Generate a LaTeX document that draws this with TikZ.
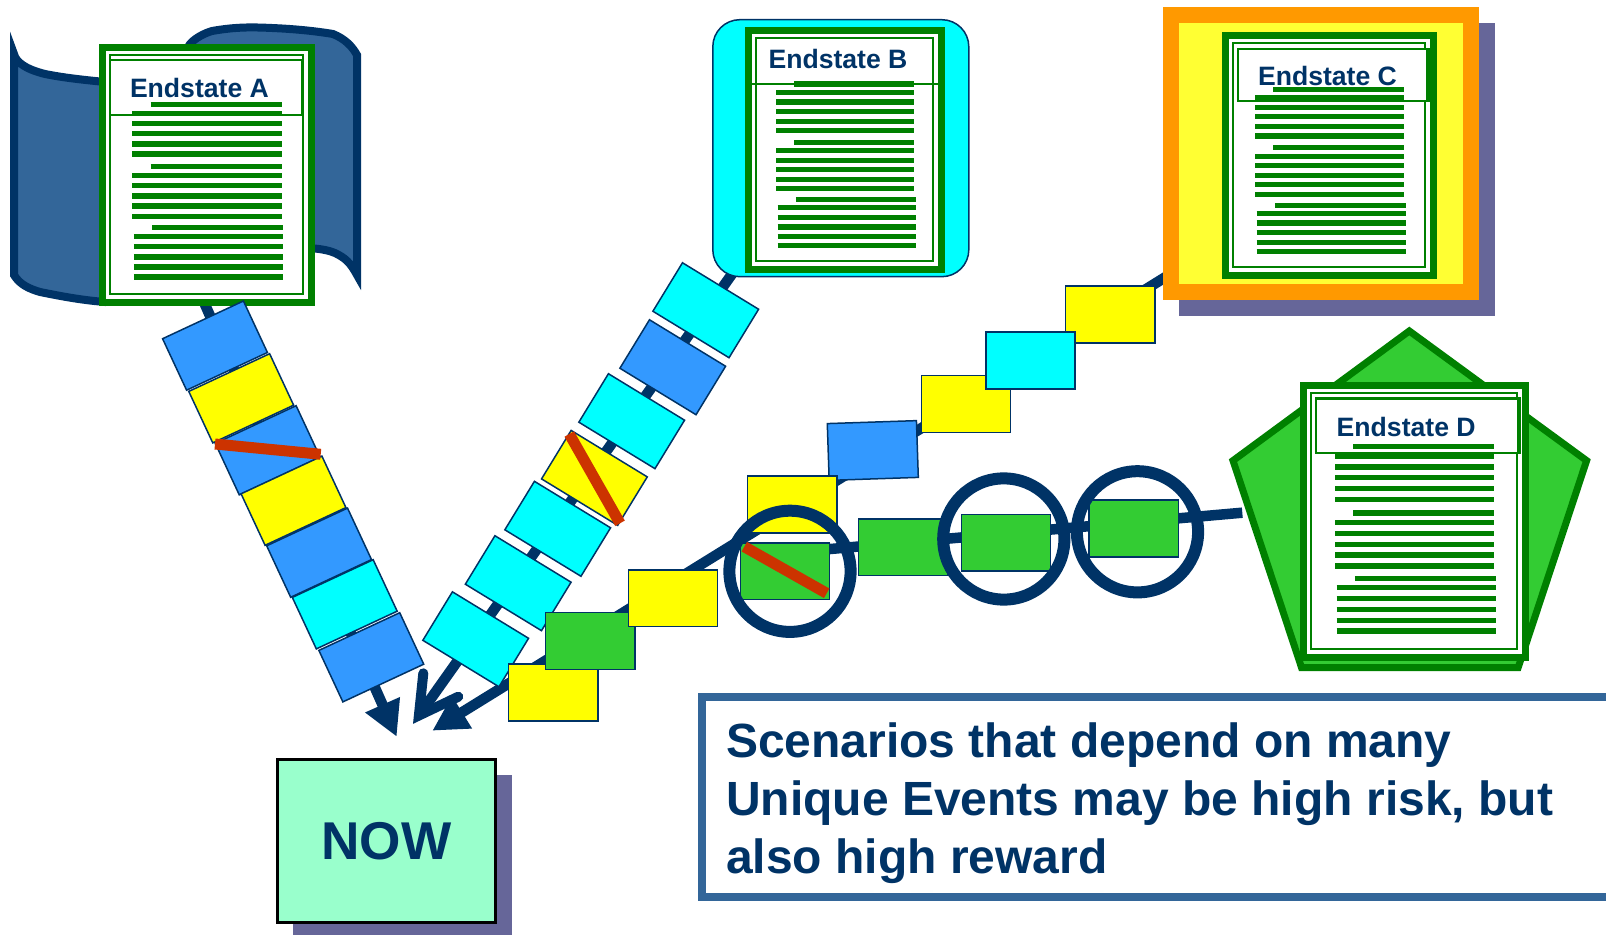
\documentclass[tikz,border=0pt]{standalone}
\usepackage{fontspec}
\setmainfont{Liberation Sans}
\usetikzlibrary{arrows.meta,backgrounds}
\definecolor{navy}{HTML}{003366}
\definecolor{flagblue}{HTML}{336699}
\definecolor{docgreen}{HTML}{008000}
\definecolor{evblue}{HTML}{3399FF}
\definecolor{evcyan}{HTML}{00FFFF}
\definecolor{evyellow}{HTML}{FFFF00}
\definecolor{evgreen}{HTML}{33CC33}
\definecolor{redbar}{HTML}{CC3300}
\definecolor{nowfill}{HTML}{99FFCC}
\definecolor{shadowc}{HTML}{666699}
\definecolor{orangec}{HTML}{FF9900}
\definecolor{softyellow}{HTML}{FFFF33}
\tikzset{
  evt/.style={draw=navy,line width=.75pt,inner sep=0pt,outer sep=0pt,minimum width=44.6pt,minimum height=28.4pt,fill=#1},
  docouter/.style={draw=docgreen,line width=3.5pt,fill=white,inner sep=0pt,outer sep=0pt},
  docthin/.style={draw=docgreen,line width=1pt},
  bodyrule/.style={draw=docgreen,line width=2.6pt},
  doctitle/.style={text=navy,font=\fontsize{13.3pt}{15pt}\bfseries,inner sep=0pt,outer sep=0pt,anchor=base west},
  conn/.style={draw=navy,line width=5.25pt},
  solidhead/.style={-{Triangle[length=17.5pt,width=17.8pt]}},
  openhead/.style={draw=navy,line width=5pt,line cap=round,line join=miter,miter limit=10},
  ring/.style={draw=navy,line width=6pt,circle,inner sep=0pt,outer sep=0pt,minimum size=60.6pt},
  strike/.style={draw=redbar,line width=5.5pt},
  statement/.style={text=navy,font=\fontsize{24pt}{29pt}\bfseries,inner sep=0pt,outer sep=0pt,anchor=base west},
}
\newcommand\docsheet[5]{%
  \pgfmathsetmacro\dcx{(#2+#4)/2}%
  \pgfmathsetmacro\dcy{(#3+#5)/2}%
  \pgfmathsetmacro\dw{(#4-#2-7)*0.5}%
  \pgfmathsetmacro\dh{(#5-#3-7)*0.5}%
  \node[docouter,minimum width=\dw pt,minimum height=\dh pt] (#1) at (\dcx,\dcy) {};
  \draw[docthin] ({#2+11},{#3+11}) rectangle ({#4-12},{#5-12});
}
\newcommand\docrules[4]{%
  \foreach \ro/\rd/\rs in {0/1/0,9/0/0,19.3/0/0,29.3/0/0,39.7/0/0,49.7/0/0,
      62.3/1/0,71.3/0/0,81.3/0/0,91.7/0/0,101.7/0/0,112/0/0,
      123.3/1/1,132.3/0/1,142.3/0/1,152.7/0/1,162.7/0/1,172.7/0/1}{
    \pgfmathsetmacro\ry{#3+\ro/172.7*#4}
    \draw[bodyrule] ({#1+\rd*18.4+\rs*1.5},\ry) -- ({#2+\rs*1.5},\ry);
  }%
}
\begin{document}
\begin{tikzpicture}[x=0.5pt,y=-0.5pt]
\clip (0,0) rectangle (1606,935);

% free ends of the connectors
\coordinate (a0) at (203,300);
\coordinate (atip) at (396.7,736.7);
\coordinate (b0) at (737,267);
\coordinate (bapex) at (418.9,715.5);
\coordinate (bbarb1) at (423.3,673.3);
\coordinate (bbarb2) at (458.3,696.7);
\coordinate (c0) at (1170,274.3);
\coordinate (ctip) at (432.3,730.7);
\coordinate (d0) at (1242.3,512.7);
\coordinate (d1) at (785,553);

% flag behind Endstate A
\draw[draw=navy,line width=4pt,fill=flagblue,miter limit=10] (14,54)
  .. controls (16,62) and (25,69) .. (45,74)
  .. controls (65,78) and (85,80) .. (105,82)
  .. controls (145,85) and (175,70) .. (190,44)
  .. controls (195,38) and (205,33) .. (212,31)
  .. controls (235,27) and (250,27) .. (272,28)
  .. controls (295,29) and (315,31) .. (333,34)
  .. controls (345,39) and (352,46) .. (357,55)
  -- (357,275)
  .. controls (350,262) and (345,258) .. (335,253)
  .. controls (328,250) and (320,249) .. (310,248)
  -- (105,302)
  .. controls (80,300) and (60,296) .. (40,292)
  .. controls (30,289) and (20,285) .. (14,275) -- cycle;

% Endstate A
\docsheet{docA}{99.3}{44}{315}{305.7}
\draw[docthin,fill=white] (110,60) rectangle (302,115);
\docrules{132.3}{281.7}{104.3}{172.7}
\node[doctitle] (titleA) at (130,97.7) {Endstate A};

% Endstate B
\node[draw=navy,line width=.75pt,fill=evcyan,rounded corners=13.5pt,inner sep=0pt,minimum width=128pt,minimum height=128.5pt] (bgB) at (840.8,148.2) {};
\docsheet{docB}{745}{27.3}{945}{273.3}
\draw[docthin] (752,84.3) -- (938,84.3);
\docrules{776}{914.3}{84}{161.7}
\node[doctitle] (titleB) at (768.5,69) {Endstate B};

% Endstate C
\node[fill=shadowc,inner sep=0pt,minimum width=157.85pt,minimum height=146.2pt] (shC) at (1337.2,169.5) {};
\node[fill=softyellow,draw=orangec,line width=8pt,inner sep=0pt,minimum width=149.85pt,minimum height=138.2pt] (bgC) at (1321.2,153.5) {};
\docsheet{docC}{1222}{32.3}{1437}{279}
\draw[docthin,line width=1.25pt,fill=white] (1237.8,48.8) rectangle (1429,101.2);
\draw[docthin] (1426.7,48.8) -- (1426.7,101.2);
\docrules{1255}{1404.3}{89.3}{162.3}
\node[doctitle] (titleC) at (1258,86) {Endstate C};

% Endstate D
\draw[draw=docgreen,line width=3.5pt,fill=evgreen,miter limit=10] (1409.3,331) -- (1586.6,460.6) -- (1518.2,667.5) -- (1301.5,667.5) -- (1233,460.6) -- cycle;
\docsheet{docD}{1300.3}{382.3}{1529}{661}
\draw[docthin,line width=1.25pt,fill=white] (1316,398.6) rectangle (1520,453);
\draw[docthin] (1518,398.6) -- (1518,453);
\docrules{1335}{1494.3}{446.3}{184.7}
\node[doctitle] (titleD) at (1336.7,437) {Endstate D};

% chain A
\foreach \nm/\px/\py/\cc in {a1/215/345.6/evblue,a2/241.2/398.3/evyellow,a3/267.7/450.3/evblue,a4/293.5/500.7/evyellow,a5/319.1/552.7/evblue,a6/344.75/604.3/evcyan,a7/371.3/657.3/evblue}{
  \node[evt=\cc,rotate=25] (\nm) at (\px,\py) {};
}
% chain B
\foreach \nm/\px/\py/\cc in {b1/705.75/310.25/evcyan,b2/672.75/367.25/evblue,b3/631.7/421.2/evcyan,b4/594.4/477.9/evyellow,b5/557.7/528.8/evcyan,b6/518.2/583.2/evcyan,b7/475.7/639.3/evcyan}{
  \node[evt=\cc,rotate=-31.4] (\nm) at (\px,\py) {};
}
% chain C
\node[evt=evblue,rotate=1.9] (c4) at (872.8,450.5) {};
\foreach \nm/\px/\py/\cc in {c5/792.3/504.5/evyellow,c3/965.9/403.9/evyellow,c1/1110.2/314.5/evyellow,c2/1030.5/360.5/evcyan,c8/553.3/692.5/evyellow,c7/590.3/641/evgreen,c6/673/598.2/evyellow}{
  \node[evt=\cc] (\nm) at (\px,\py) {};
}
% chain D
\foreach \nm/\px/\py in {g1/785/571.3,g2/903.3/547.3,g3/1006/542.7,g4/1133.7/528.5}{
  \node[evt=evgreen] (\nm) at (\px,\py) {};
}
\node[ring] (r1) at (790,571.3) {};
\node[ring] (r2) at (1003.8,539) {};
\node[ring] (r3) at (1137.5,531.8) {};

% strikes
\coordinate (sa0) at (215,444);
\coordinate (sa1) at (320.7,454.3);
\coordinate (sb0) at (569.3,434);
\coordinate (sb1) at (620,523.3);
\coordinate (sg0) at (744.3,546.7);
\coordinate (sg1) at (826.7,593.3);
\draw[strike] (sa0) -- (sa1);
\draw[strike] (sb0) -- (sb1);
\draw[strike] (sg0) -- (sg1);

% NOW
\node[fill=shadowc,inner sep=0pt,minimum width=109.4pt,minimum height=83pt] (shN) at (402.65,857.5) {};
\node[draw=black,line width=1.35pt,fill=nowfill,text=navy,font=\fontsize{26.6pt}{30pt}\bfseries,inner sep=0pt,outer sep=0pt,minimum width=108.9pt,minimum height=81.6pt,text depth=-1.5pt] (now) at (386.3,841.2) {NOW};

% statement
\node[draw=flagblue,line width=4pt,fill=white,inner sep=0pt,outer sep=0pt,minimum width=470pt,minimum height=100pt,anchor=north west] (box) at (702,697.3) {};
\node[statement] (l1) at (726.2,757.3) {Scenarios that depend on many};
\node[statement] (l2) at (726.2,815) {Unique Events may be high risk, but};
\node[statement] (l3) at (726.2,873) {also high reward};

% connectors
\begin{scope}[on background layer]
  \draw[conn,solidhead] (a0) -- (atip);
  \draw[conn] (b0) -- (bapex);
  \draw[openhead] (bbarb1) -- (bapex) -- (bbarb2);
  \draw[conn,solidhead] (c0) -- (ctip);
  \draw[conn] (d0) -- (d1);
\end{scope}
\end{tikzpicture}
\end{document}
